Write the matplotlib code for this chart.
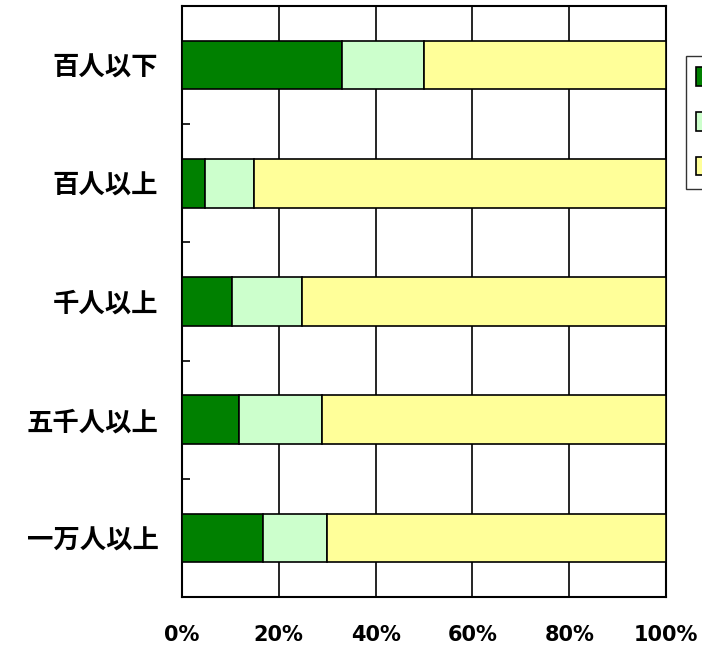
import matplotlib
matplotlib.use("Agg")
import matplotlib.pyplot as plt
from matplotlib.patches import Patch
from matplotlib.ticker import FixedLocator
import numpy as np

plt.rcParams['font.family'] = ['Noto Sans CJK JP', 'DejaVu Sans']

# data (percent)
categories = ["百人以下", "百人以上", "千人以上", "五千人以上", "一万人以上"]
series_names = ["ある", "検討中", "ない"]
share_a = [33.1, 4.8, 10.3, 11.8, 16.7]
share_b = [16.9, 10.1, 14.5, 17.1, 13.2]
share_c = [50.0, 85.1, 75.2, 71.1, 70.1]
colors = ["#008000", "#CCFFCC", "#FFFF99"]
xticks = [0, 20, 40, 60, 80, 100]

fig = plt.figure(figsize=(7.02, 6.48), dpi=100)
ax = fig.add_axes([182/702, 1 - 597/648, 484/702, 591/648])

y = np.arange(len(categories))
left = np.zeros(len(categories))
for vals, col, name in zip([share_a, share_b, share_c], colors, series_names):
    ax.barh(y, vals, left=left, height=0.41, color=col, edgecolor="black",
            linewidth=1.2, label=name, zorder=3)
    left = left + np.array(vals)

ax.set_xlim(0, 100)
ax.set_ylim(len(categories) - 0.5, -0.5)
ax.set_xticks(xticks)
ax.set_xticklabels([f"{v}%" for v in xticks], fontsize=15, fontweight="bold",
                   family="DejaVu Sans")
ax.set_yticks(y)
ax.set_yticklabels(categories, fontsize=19, fontweight="bold")
ax.yaxis.set_minor_locator(FixedLocator(y[:-1] + 0.5))
ax.tick_params(axis="x", length=0, pad=20)
ax.tick_params(axis="y", which="major", length=0, pad=17)
ax.tick_params(axis="y", which="minor", direction="in", length=6, width=1.2)

ax.grid(axis="x", color="black", linewidth=1.2, zorder=0)
ax.set_axisbelow(True)
for s in ax.spines.values():
    s.set_linewidth(1.5)

handles = [Patch(facecolor=c, edgecolor="black", linewidth=1.2) for c in colors]
fig.legend(handles, series_names, loc="upper left",
           bbox_to_anchor=(686/702, 1 - 56/648), fontsize=15, frameon=True,
           fancybox=False, edgecolor="black", labelspacing=1.1,
           handlelength=0.9, handleheight=1.0, borderpad=0.5,
           borderaxespad=0)

fig.savefig("out.png", dpi=100)
